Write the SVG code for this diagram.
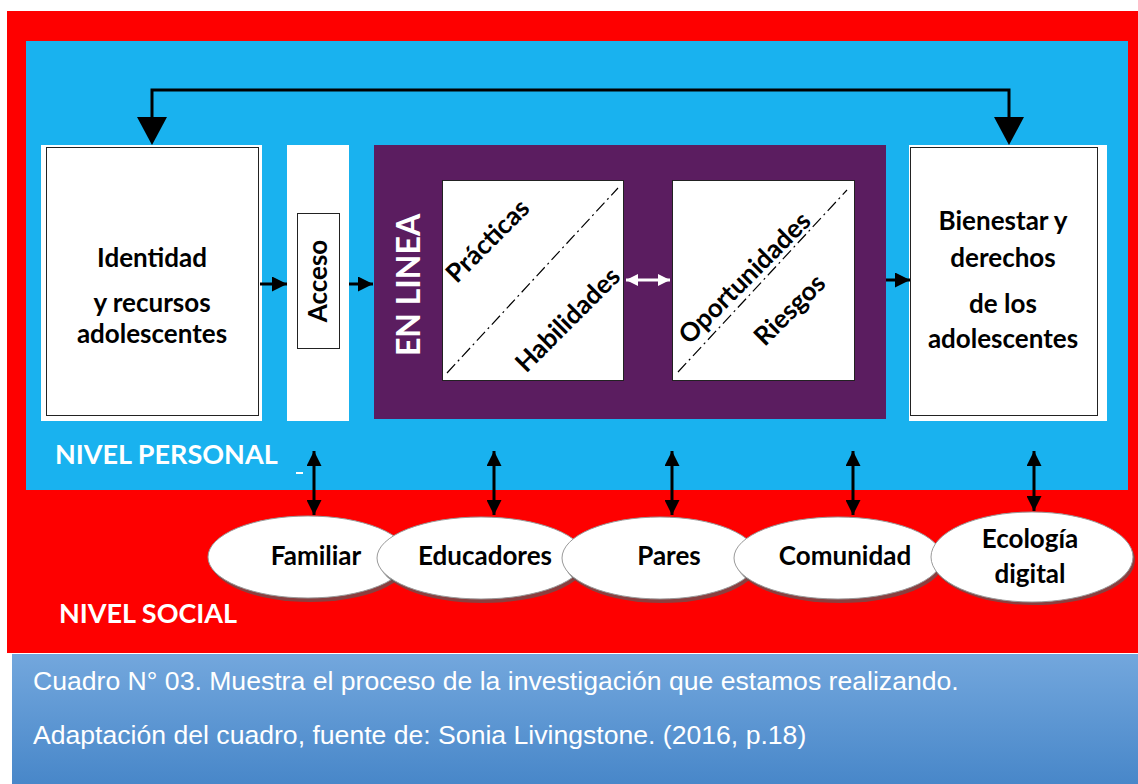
<svg xmlns="http://www.w3.org/2000/svg" width="1138" height="784" viewBox="0 0 1138 784">
  <defs>
    <linearGradient id="capGrad" x1="0" y1="0" x2="0" y2="1">
      <stop offset="0" stop-color="#73a7dd"/>
      <stop offset="1" stop-color="#4887c9"/>
    </linearGradient>
    <marker id="ah" viewBox="0 0 10 10" refX="10" refY="5" markerWidth="5" markerHeight="5" orient="auto-start-reverse" markerUnits="strokeWidth">
      <path d="M0,0 L10,5 L0,10 Z" fill="#000"/>
    </marker>
    <marker id="ahw" viewBox="0 0 10 10" refX="10" refY="5" markerWidth="4" markerHeight="4.5" orient="auto-start-reverse" markerUnits="strokeWidth">
      <path d="M0,0 L10,5 L0,10 Z" fill="#fff"/>
    </marker>
  </defs>
  <style>
    .lbl { font-family: Lato, "Open Sans", sans-serif; font-weight: 700; font-size: 26px; fill: #000; text-anchor: middle; }
    .wlbl { font-family: Lato, "Open Sans", sans-serif; font-weight: 700; fill: #fff; }
    .cap { font-family: "Liberation Sans", Arial, sans-serif; font-size: 26.6px; fill: #fff; }
    .box { fill: #fff; }
    .frame { fill: none; stroke: #222; stroke-width: 1; }
    .conn { stroke: #000; stroke-width: 3; fill: none; }
    .diag { stroke: #000; stroke-width: 1.2; stroke-dasharray: 12 4 2 4; fill: none; }
    .oval { fill: #fff; stroke: #9a9a9a; stroke-width: 1; }
    .shadow { fill: #5a5a5a; opacity: 0.7; }
  </style>

  <rect width="1138" height="784" fill="#fff"/>

  <!-- social level (outer) and personal level (inner) panels -->
  <rect x="7" y="11" width="1131" height="642" fill="#fe0000"/>
  <rect x="26" y="41" width="1102" height="449" fill="#19b2ef"/>
  <rect x="296" y="472" width="7" height="2" fill="#fff"/>
  <text class="wlbl" x="55" y="464" font-size="27">NIVEL PERSONAL</text>
  <text class="wlbl" x="59" y="623" font-size="27">NIVEL SOCIAL</text>

  <!-- caption -->
  <rect x="12" y="654" width="1126" height="130" fill="url(#capGrad)"/>
  <text class="cap" x="33" y="690">Cuadro N° 03. Muestra el proceso de la investigación que estamos realizando.</text>
  <text class="cap" x="33" y="744">Adaptación del cuadro, fuente de: Sonia Livingstone. (2016, p.18)</text>

  <g id="identidad">
    <rect class="box" x="41" y="145" width="221" height="276"/>
    <rect class="frame" x="46.5" y="147.5" width="212" height="268"/>
    <text class="lbl" x="152" y="267">Identidad</text>
    <text class="lbl" x="152" y="312">y recursos</text>
    <text class="lbl" x="152" y="343">adolescentes</text>
  </g>

  <g id="acceso">
    <rect class="box" x="287" y="145" width="62" height="276"/>
    <rect class="frame" x="297.5" y="213.5" width="42" height="135"/>
    <text class="lbl" font-size="24" transform="translate(327,281) rotate(-90)">Acceso</text>
  </g>

  <g id="en-linea">
    <rect x="374" y="145" width="512" height="274" fill="#5b1d60"/>
    <text class="wlbl" font-size="32" text-anchor="middle" transform="translate(420,285) rotate(-90)">EN LINEA</text>
  </g>

  <g id="practicas-habilidades">
    <rect class="box" x="442" y="180" width="182" height="201"/>
    <rect class="frame" x="442.5" y="180.5" width="181" height="200"/>
    <line class="diag" x1="447" y1="373" x2="618" y2="188"/>
    <text class="lbl" transform="translate(494,247) rotate(-45)">Prácticas</text>
    <text class="lbl" transform="translate(574,326) rotate(-45)">Habilidades</text>
  </g>

  <g id="oportunidades-riesgos">
    <rect class="box" x="672" y="180" width="183" height="201"/>
    <rect class="frame" x="672.5" y="180.5" width="182" height="200"/>
    <line class="diag" x1="678" y1="372" x2="847" y2="190"/>
    <text class="lbl" transform="translate(751,284) rotate(-45)">Oportunidades</text>
    <text class="lbl" transform="translate(796,316) rotate(-45)">Riesgos</text>
  </g>

  <g id="bienestar">
    <rect class="box" x="909" y="145" width="198" height="276"/>
    <rect class="frame" x="910.5" y="147.5" width="187" height="268"/>
    <text class="lbl" x="1003" y="230">Bienestar y</text>
    <text class="lbl" x="1003" y="267">derechos</text>
    <text class="lbl" x="1003" y="313">de los</text>
    <text class="lbl" x="1003" y="348">adolescentes</text>
  </g>

  <!-- social actors -->
  <g id="familiar">
    <ellipse class="shadow" cx="310" cy="560" rx="100" ry="42"/>
    <ellipse class="oval" cx="308" cy="557" rx="100" ry="41"/>
    <text class="lbl" x="316" y="565" font-size="26.5">Familiar</text>
  </g>
  <g id="educadores">
    <ellipse class="shadow" cx="483" cy="561" rx="104" ry="42"/>
    <ellipse class="oval" cx="481" cy="558" rx="104" ry="41"/>
    <text class="lbl" x="485" y="565" font-size="26.5">Educadores</text>
  </g>
  <g id="pares">
    <ellipse class="shadow" cx="662" cy="561" rx="98" ry="42"/>
    <ellipse class="oval" cx="660" cy="558" rx="98" ry="41"/>
    <text class="lbl" x="669" y="565" font-size="26.5">Pares</text>
  </g>
  <g id="comunidad">
    <ellipse class="shadow" cx="840" cy="561" rx="104" ry="42"/>
    <ellipse class="oval" cx="838" cy="558" rx="104" ry="41"/>
    <text class="lbl" x="845" y="565" font-size="26.5">Comunidad</text>
  </g>
  <g id="ecologia">
    <ellipse class="shadow" cx="1034" cy="560" rx="101" ry="45"/>
    <ellipse class="oval" cx="1032" cy="557" rx="101" ry="45"/>
    <text class="lbl" x="1030" y="548" font-size="26.5">Ecología</text>
    <text class="lbl" x="1030" y="583" font-size="26.5">digital</text>
  </g>

  <g id="connectors">
    <!-- feedback loop across the top -->
    <polyline class="conn" points="152,120 152,90 1009,90 1009,120"/>
    <polygon points="137,117 167,117 152,145" fill="#000"/>
    <polygon points="994,117 1024,117 1009,145" fill="#000"/>

    <!-- main flow -->
    <line stroke="#000" stroke-width="3" x1="260" y1="284" x2="287" y2="284" marker-end="url(#ah)"/>
    <line stroke="#000" stroke-width="3" x1="349" y1="284" x2="373" y2="284" marker-end="url(#ah)"/>
    <line stroke="#000" stroke-width="3" x1="886" y1="280" x2="910" y2="280" marker-end="url(#ah)"/>
    <line stroke="#fff" stroke-width="3" x1="626" y1="280" x2="670" y2="280" marker-start="url(#ahw)" marker-end="url(#ahw)"/>

    <!-- personal / social links -->
    <line stroke="#000" stroke-width="3" x1="314" y1="451" x2="314" y2="515" marker-start="url(#ah)" marker-end="url(#ah)"/>
    <line stroke="#000" stroke-width="3" x1="494" y1="451" x2="494" y2="515" marker-start="url(#ah)" marker-end="url(#ah)"/>
    <line stroke="#000" stroke-width="3" x1="672" y1="451" x2="672" y2="515" marker-start="url(#ah)" marker-end="url(#ah)"/>
    <line stroke="#000" stroke-width="3" x1="853" y1="451" x2="853" y2="515" marker-start="url(#ah)" marker-end="url(#ah)"/>
    <line stroke="#000" stroke-width="3" x1="1034" y1="451" x2="1034" y2="511" marker-start="url(#ah)" marker-end="url(#ah)"/>
  </g>
</svg>
